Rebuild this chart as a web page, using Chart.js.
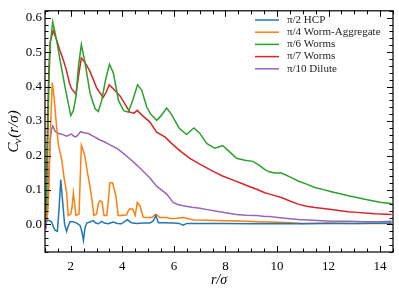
<!DOCTYPE html>
<html>
<head>
<meta charset="utf-8">
<script src="https://cdn.jsdelivr.net/npm/chart.js@4.4.1/dist/chart.umd.min.js"></script>
<style>
  html, body { margin: 0; padding: 0; background: #fff; }
  #wrap { width: 399px; height: 299px; }
</style>
</head>
<body>
<div id="wrap"><canvas id="grafico"></canvas></div>
<script>
// etiquetas de la leyenda
const etiquetas = ['\u03c0/2 HCP', '\u03c0/4 Worm-Aggregate', '\u03c0/6 Worms', '\u03c0/7 Worms', '\u03c0/10 Dilute'];
const colores = ['#1f77b4', '#ff7f0e', '#2ca02c', '#d62728', '#9467bd'];

// marcas de los ejes
const ticksX = [2, 4, 6, 8, 10, 12, 14];
const ticksY = [0.0, 0.1, 0.2, 0.3, 0.4, 0.5, 0.6];

// pi/2 HCP
const rHCP = [1.0, 1.06, 1.15, 1.26, 1.33, 1.39, 1.48, 1.55, 1.61, 1.68, 1.76, 1.84, 1.9, 1.97, 2.1, 2.23, 2.36, 2.43, 2.49, 2.55, 2.62, 2.74, 2.87, 2.97, 3.07, 3.2, 3.3, 3.45, 3.65, 3.8, 3.97, 4.19, 4.35, 4.55, 4.8, 5.07, 5.2, 5.3, 5.4, 5.6, 6.0, 6.2, 6.36, 6.5, 7.0, 8.0, 9.0, 10.0, 11.0, 12.0, 13.0, 14.45];
const cHCP = [0.008, 0.01, 0.012, 0.007, -0.008, -0.017, -0.02, 0.05, 0.13, 0.07, 0.0, -0.02, -0.005, 0.008, 0.008, 0.004, -0.003, -0.02, -0.046, -0.01, 0.004, 0.007, 0.011, 0.004, 0.002, 0.009, 0.004, 0.002, 0.007, 0.003, 0.002, 0.014, 0.005, 0.003, 0.004, 0.004, 0.01, 0.026, 0.005, 0.005, 0.004, 0.003, -0.002, 0.003, 0.003, 0.003, 0.002, 0.003, 0.002, 0.003, 0.003, 0.004];

// pi/4 Worm-Aggregate
const rAgg = [1.0, 1.05, 1.1, 1.15, 1.2, 1.28, 1.35, 1.45, 1.52, 1.65, 1.75, 1.84, 1.9, 2.0, 2.05, 2.1, 2.15, 2.2, 2.32, 2.36, 2.41, 2.48, 2.55, 2.65, 2.74, 2.81, 2.9, 3.0, 3.07, 3.13, 3.21, 3.29, 3.4, 3.47, 3.52, 3.62, 3.75, 3.84, 3.95, 4.17, 4.23, 4.29, 4.4, 4.5, 4.58, 4.68, 4.81, 5.0, 5.15, 5.26, 5.33, 5.45, 5.72, 5.85, 6.1, 6.36, 6.78, 7.27, 8.0, 8.56, 9.2, 9.72, 10.5, 11.0, 12.0, 13.0, 14.45];
const cAgg = [0.0, 0.01, 0.03, 0.1, 0.25, 0.411, 0.37, 0.283, 0.23, 0.188, 0.13, 0.092, 0.026, 0.03, 0.05, 0.092, 0.06, 0.026, 0.03, 0.12, 0.23, 0.215, 0.197, 0.15, 0.111, 0.078, 0.026, 0.03, 0.06, 0.069, 0.066, 0.026, 0.026, 0.08, 0.121, 0.121, 0.083, 0.026, 0.026, 0.028, 0.04, 0.045, 0.045, 0.026, 0.064, 0.055, 0.021, 0.02, 0.02, 0.028, 0.029, 0.02, 0.02, 0.017, 0.018, 0.02, 0.013, 0.012, 0.011, 0.01, 0.008, 0.007, 0.005, 0.003, 0.004, 0.003, 0.003];

// pi/6 Worms
const rW6 = [1.0, 1.05, 1.1, 1.15, 1.2, 1.3, 1.45, 1.6, 1.8, 2.0, 2.1, 2.2, 2.3, 2.41, 2.55, 2.75, 2.95, 3.07, 3.2, 3.35, 3.5, 3.65, 3.85, 4.05, 4.23, 4.4, 4.59, 4.75, 4.95, 5.1, 5.33, 5.5, 5.72, 5.9, 6.2, 6.49, 6.65, 6.78, 7.0, 7.27, 7.59, 7.89, 8.1, 8.43, 8.75, 9.07, 9.3, 9.53, 9.72, 9.91, 10.17, 10.5, 10.82, 11.15, 11.47, 11.8, 12.11, 12.45, 12.76, 13.1, 13.4, 13.75, 14.05, 14.45];
const cW6 = [0.0, 0.05, 0.2, 0.4, 0.52, 0.588, 0.535, 0.47, 0.39, 0.316, 0.33, 0.37, 0.46, 0.522, 0.47, 0.38, 0.335, 0.328, 0.36, 0.42, 0.465, 0.44, 0.36, 0.33, 0.326, 0.36, 0.405, 0.39, 0.34, 0.32, 0.302, 0.315, 0.338, 0.32, 0.28, 0.261, 0.272, 0.28, 0.265, 0.235, 0.221, 0.229, 0.215, 0.192, 0.186, 0.183, 0.172, 0.159, 0.152, 0.149, 0.149, 0.138, 0.126, 0.117, 0.107, 0.101, 0.095, 0.089, 0.083, 0.078, 0.073, 0.068, 0.064, 0.061];

// pi/7 Worms
const rW7 = [1.0, 1.05, 1.1, 1.15, 1.2, 1.32, 1.45, 1.58, 1.72, 1.84, 1.95, 2.03, 2.2, 2.3, 2.41, 2.55, 2.74, 3.0, 3.15, 3.26, 3.38, 3.49, 3.7, 3.91, 4.1, 4.29, 4.45, 4.58, 4.75, 5.07, 5.33, 5.65, 5.97, 6.3, 6.62, 6.95, 7.27, 7.6, 7.91, 8.25, 8.56, 8.9, 9.21, 9.53, 9.72, 10.17, 10.5, 10.82, 11.15, 11.47, 11.8, 12.11, 12.45, 12.76, 13.1, 13.4, 13.8, 14.45];
const cW7 = [-0.01, 0.1, 0.3, 0.45, 0.53, 0.562, 0.535, 0.505, 0.475, 0.445, 0.41, 0.394, 0.378, 0.43, 0.483, 0.47, 0.445, 0.397, 0.38, 0.369, 0.385, 0.405, 0.39, 0.373, 0.35, 0.326, 0.323, 0.331, 0.318, 0.297, 0.268, 0.254, 0.231, 0.21, 0.192, 0.177, 0.164, 0.151, 0.14, 0.13, 0.121, 0.111, 0.102, 0.092, 0.088, 0.078, 0.068, 0.059, 0.053, 0.049, 0.046, 0.043, 0.04, 0.037, 0.035, 0.033, 0.031, 0.029];

// pi/10 Dilute
const rDil = [1.0, 1.04, 1.1, 1.15, 1.2, 1.25, 1.3, 1.4, 1.52, 1.65, 1.84, 1.95, 2.03, 2.12, 2.2, 2.3, 2.38, 2.5, 2.68, 2.9, 3.13, 3.3, 3.52, 3.8, 4.03, 4.3, 4.55, 4.8, 5.07, 5.33, 5.55, 5.72, 5.97, 6.15, 6.36, 6.7, 7.01, 7.3, 7.66, 8.0, 8.43, 8.8, 9.21, 9.53, 9.72, 10.2, 10.82, 11.4, 12.11, 12.8, 13.4, 14.0, 14.45];
const cDil = [-0.005, -0.01, 0.05, 0.15, 0.24, 0.275, 0.286, 0.27, 0.264, 0.262, 0.256, 0.26, 0.262, 0.256, 0.254, 0.262, 0.269, 0.266, 0.264, 0.255, 0.245, 0.24, 0.231, 0.22, 0.207, 0.19, 0.173, 0.155, 0.135, 0.111, 0.098, 0.088, 0.064, 0.058, 0.054, 0.05, 0.047, 0.043, 0.038, 0.034, 0.029, 0.027, 0.026, 0.023, 0.023, 0.019, 0.014, 0.012, 0.009, 0.009, 0.008, 0.008, 0.009];

const series = [[rHCP, cHCP], [rAgg, cAgg], [rW6, cW6], [rW7, cW7], [rDil, cDil]];

const fuente = "'Liberation Serif', 'DejaVu Serif', serif";

// Marcas hacia dentro en los cuatro lados + marco + titulo Y + leyenda
const marcoPlugin = {
    id: 'marco',
    afterDraw(chart) {
        const ctx = chart.ctx;
        const a = chart.chartArea;
        const sx = chart.scales.x;
        const sy = chart.scales.y;
        ctx.save();
        ctx.strokeStyle = '#000';
        ctx.lineWidth = 1;

        const tickX = (v, len) => {
            const p = Math.round(sx.getPixelForValue(v)) + 0.5;
            ctx.beginPath();
            ctx.moveTo(p, a.bottom); ctx.lineTo(p, a.bottom - len);
            ctx.moveTo(p, a.top); ctx.lineTo(p, a.top + len);
            ctx.stroke();
        };
        const tickY = (v, len) => {
            const p = Math.round(sy.getPixelForValue(v)) + 0.5;
            ctx.beginPath();
            ctx.moveTo(a.left, p); ctx.lineTo(a.left + len, p);
            ctx.moveTo(a.right, p); ctx.lineTo(a.right - len, p);
            ctx.stroke();
        };
        for (let i = 0; i <= 27; i++) {
            const v = 1 + i * 0.5;
            if (ticksX.includes(v)) tickX(v, 6); else tickX(v, 3.5);
        }
        for (let i = 0; i <= 35; i++) {
            const v = Math.round((-0.08 + i * 0.02) * 100) / 100;
            if (ticksY.some(t => Math.abs(t - v) < 1e-9)) tickY(v, 6); else tickY(v, 3.5);
        }
        ctx.lineWidth = 1.2;
        ctx.strokeRect(a.left, a.top, a.right - a.left, a.bottom - a.top);

        // titulo del eje Y: C_v(r/sigma)
        ctx.translate(14, (a.top + a.bottom) / 2);
        ctx.rotate(-Math.PI / 2);
        ctx.fillStyle = '#000';
        ctx.textBaseline = 'middle';
        const grande = 'italic 15px ' + fuente;
        const chico = 'italic 11px ' + fuente;
        ctx.font = grande;
        const wC = ctx.measureText('C').width;
        const wResto = ctx.measureText('(r/\u03c3)').width;
        ctx.font = chico;
        const wv = ctx.measureText('v').width;
        let x0 = -(wC + wv + wResto) / 2;
        ctx.font = grande;
        ctx.fillText('C', x0, 0);
        ctx.font = chico;
        ctx.fillText('v', x0 + wC - 1, 4);
        ctx.font = grande;
        ctx.fillText('(r/\u03c3)', x0 + wC + wv, 0);
        ctx.restore();

        // leyenda
        ctx.save();
        ctx.font = '11px ' + fuente;
        ctx.textBaseline = 'middle';
        ctx.fillStyle = '#222';
        chart.data.datasets.forEach((ds, i) => {
            const y = 20 + i * 12.2;
            ctx.strokeStyle = ds.borderColor;
            ctx.lineWidth = 1.5;
            ctx.beginPath();
            ctx.moveTo(255, y); ctx.lineTo(279, y);
            ctx.stroke();
            ctx.fillText(ds.label, 287, y);
        });
        ctx.restore();
    }
};

const ctx = document.getElementById('grafico').getContext('2d');
const chart = new Chart(ctx, {
    type: 'line',
    data: {
        datasets: series.map((s, i) => ({
            label: etiquetas[i],
            data: s[0].map((r, j) => ({ x: r, y: s[1][j] })),
            borderColor: colores[i],
            backgroundColor: colores[i],
            borderWidth: 1.5,
            pointRadius: 0,
            fill: false,
            tension: 0
        }))
    },
    options: {
        responsive: true,
        maintainAspectRatio: false,
        animation: false,
        layout: { padding: { top: 5, right: 6, left: 0, bottom: 0 } },
        scales: {
            x: {
                type: 'linear',
                min: 1,
                max: 14.5,
                grid: { display: false, drawTicks: false },
                border: { display: false },
                afterBuildTicks: (s) => { s.ticks = ticksX.map(v => ({ value: v })); },
                afterFit: (s) => { s.height = 47; },
                ticks: {
                    color: '#000',
                    padding: 7,
                    maxRotation: 0,
                    font: { family: fuente, size: 13 },
                    callback: (v) => String(v)
                },
                title: {
                    display: true,
                    text: 'r/\u03c3',
                    color: '#000',
                    padding: { top: 0, bottom: 10 },
                    font: { family: fuente, size: 14, style: 'italic' }
                }
            },
            y: {
                type: 'linear',
                min: -0.08,
                max: 0.62,
                grid: { display: false, drawTicks: false },
                border: { display: false },
                afterBuildTicks: (s) => { s.ticks = ticksY.map(v => ({ value: v })); },
                afterFit: (s) => { s.width = 45; },
                ticks: {
                    color: '#000',
                    padding: 3,
                    font: { family: fuente, size: 13 },
                    callback: (v) => v.toFixed(1)
                }
            }
        },
        plugins: {
            legend: { display: false },
            tooltip: { enabled: false }
        }
    },
    plugins: [marcoPlugin]
});
</script>
</body>
</html>
